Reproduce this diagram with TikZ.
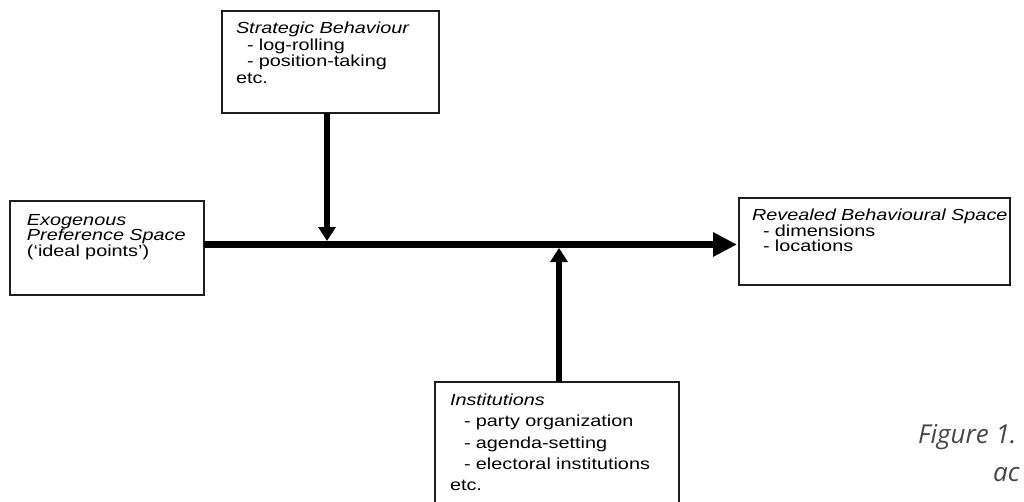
\documentclass[tikz,border=0pt]{standalone}
\usepackage{fontspec}
\setmainfont{Liberation Sans}[FakeStretch=1.24]
\newfontfamily\capfont{Open Sans}
\usetikzlibrary{arrows.meta}
\definecolor{capgray}{RGB}{70,70,70}
\definecolor{boxline}{RGB}{30,30,30}
\hyphenpenalty=10000
\exhyphenpenalty=10000
\hbadness=10000
\hfuzz=100pt
\begin{document}
\begin{tikzpicture}[x=1pt,y=-1pt,
  box/.style={draw=boxline, line width=1.3pt, anchor=north west, outer sep=0pt,
    inner ysep=0pt, align=left},
  conn/.style={line width=6.5pt},
  bigtip/.style={-{Triangle[length=24pt,width=23pt]}},
  smalltip/.style={-{Triangle[length=14pt,width=17pt]}},
  captxt/.style={font=\capfont\itshape\fontsize{26}{38}\selectfont, text=capgray,
    inner sep=0pt, anchor=base west}]
\useasboundingbox (0,0) rectangle (1024,501);
\clip (0,0) rectangle (1024,501);

% boxes
\node[box, inner xsep=14pt, text width=189pt, text height=22.7pt, text depth=79.3pt,
  font=\fontsize{16}{16.6}\selectfont] (strat) at (222,11)
  {\mbox{\textit{Strategic Behaviour}}\\
   \hspace*{11pt}\mbox{- log-rolling}\\
   \hspace*{11pt}\mbox{- position-taking}\\
   etc.};

\node[box, inner xsep=17pt, text width=160pt, text height=24pt, text depth=70pt,
  font=\fontsize{16}{15.9}\selectfont] (exo) at (10,201)
  {\mbox{\textit{Exogenous}}\\
   \mbox{\textit{Preference Space}}\\
   \mbox{(‘ideal points’)}};

\node[box, inner xsep=13pt, text width=245pt, text height=22.7pt, text depth=64.3pt,
  font=\fontsize{16}{15.5}\selectfont] (rev) at (739,198)
  {\mbox{\textit{Revealed Behavioural Space}}\\
   \hspace*{11pt}\mbox{- dimensions}\\
   \hspace*{11pt}\mbox{- locations}};

\node[box, inner xsep=15pt, text width=214pt, text height=23.7pt, text depth=130pt,
  font=\fontsize{16}{21.2}\selectfont] (inst) at (435,382)
  {\mbox{\textit{Institutions}}\\
   \hspace*{14pt}\mbox{- party organization}\\
   \hspace*{14pt}\mbox{- agenda-setting}\\
   \hspace*{14pt}\mbox{- electoral institutions}\\
   etc.};

% connectors
\coordinate (mainy) at (0,244.5);
\coordinate (downtip) at (327,241);
\coordinate (uptip) at (559,248);
\draw[conn, bigtip, shorten >=2pt] (exo.east |- mainy) -- (rev.west |- mainy);
\draw[conn, line width=6pt, smalltip] (strat.south -| downtip) -- (downtip);
\draw[conn, line width=6pt, smalltip] (inst.north -| uptip) -- (uptip);

% caption (cut off at the right edge)
\node[captxt] (cap1) at (918,443.3) {Figure 1.};
\node[captxt] (cap2) at (993,481.7) {ac};
\end{tikzpicture}
\end{document}
